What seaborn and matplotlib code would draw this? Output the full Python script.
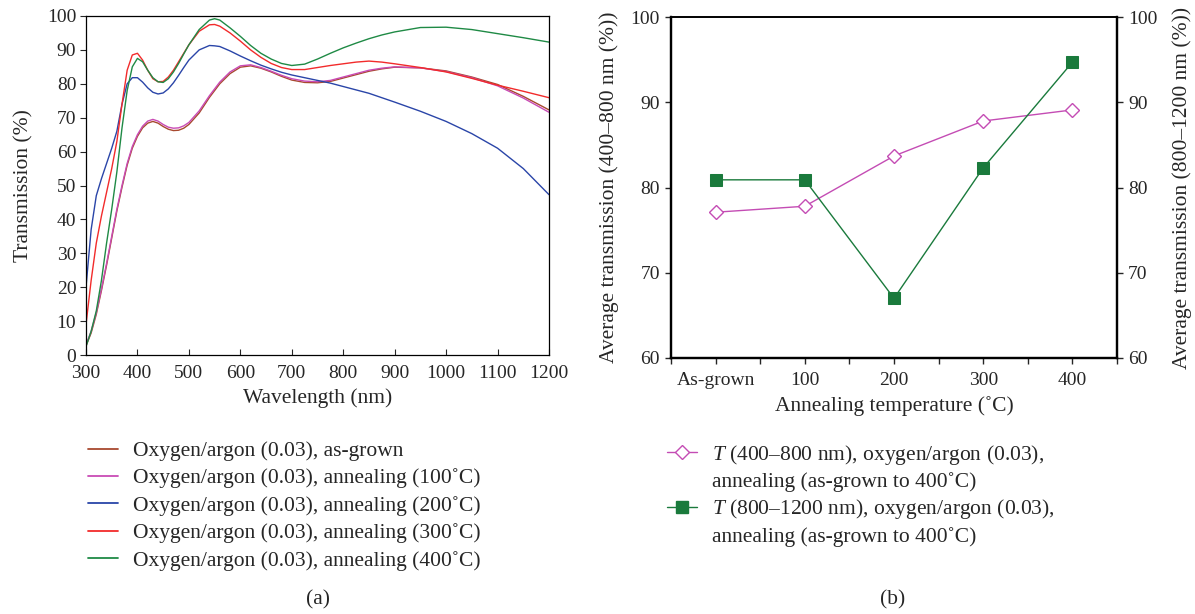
import numpy as np
import pandas as pd
import matplotlib
matplotlib.use("Agg")
import matplotlib.pyplot as plt
from matplotlib.lines import Line2D
import seaborn as sns

# ---------------- data (a) ----------------
wavelength = [300, 310, 320, 330, 340, 350, 360, 370, 380, 390, 400, 410, 420, 430, 440,
              450, 460, 470, 480, 490, 500, 520, 540, 550, 560, 580, 600, 620, 640, 660, 680,
              700, 725, 750, 775, 800, 825, 850, 875, 900, 950, 1000, 1050, 1100, 1150, 1200]

t_asgrown = [2.7, 6.5, 12, 19, 26.5, 34.5, 42.5, 49.5, 56, 61, 64.5, 67, 68.4, 68.9, 68.4,
             67.4, 66.6, 66.2, 66.3, 66.9, 68, 71.4, 76, 78, 80, 83, 84.9, 85.3, 84.6, 83.5, 82.2,
             81.1, 80.4, 80.3, 80.7, 81.7, 82.7, 83.7, 84.4, 84.9, 84.7, 83.8, 82, 79.8, 76.3, 72.3]
t_100 = [3, 7, 12.5, 19.5, 27, 35, 43, 50, 56.5, 61.5, 65, 67.5, 69, 69.5, 69,
         68, 67.2, 66.9, 67, 67.6, 68.6, 72, 76.5, 78.5, 80.5, 83.5, 85.3, 85.6, 84.8, 83.7, 82.5,
         81.5, 80.8, 80.6, 81, 82, 83, 84, 84.6, 85, 84.7, 83.6, 81.8, 79.4, 75.8, 71.6]
t_200 = [20, 37, 47, 52, 56.5, 61, 66, 74, 80, 81.8, 81.8, 80.5, 78.8, 77.5, 77,
         77.3, 78.5, 80.3, 82.5, 84.8, 87, 90, 91.3, 91.2, 91, 89.7, 88.2, 86.8, 85.5, 84.4, 83.4,
         82.6, 81.8, 81, 80.2, 79.2, 78.2, 77.2, 75.9, 74.6, 71.9, 68.9, 65.3, 61, 55, 47.3]
t_300 = [9, 22, 33, 41, 48, 55, 63, 74, 84, 88.5, 89, 87, 84, 81.5, 80.6,
         80.7, 82, 84, 86.5, 89, 91.5, 95.5, 97.4, 97.5, 97, 95, 92.6, 90, 87.8, 86, 84.8,
         84.2, 84.2, 84.8, 85.4, 85.9, 86.4, 86.7, 86.4, 85.9, 84.8, 83.5, 81.6, 79.6, 77.8, 75.9]
t_400 = [2.5, 7, 13, 22, 33, 43, 54, 67, 78, 85, 87.5, 86.5, 84, 81.8, 80.6,
         80.4, 81.5, 83.5, 86, 88.8, 91.5, 96, 98.8, 99.2, 98.8, 96.5, 94, 91.3, 89, 87.3, 86,
         85.4, 85.8, 87.3, 89, 90.6, 92, 93.3, 94.4, 95.3, 96.6, 96.7, 96, 94.8, 93.6, 92.3]

series_labels = ["Oxygen/argon (0.03), as-grown",
                 "Oxygen/argon (0.03), annealing (100˚C)",
                 "Oxygen/argon (0.03), annealing (200˚C)",
                 "Oxygen/argon (0.03), annealing (300˚C)",
                 "Oxygen/argon (0.03), annealing (400˚C)"]
series_colors = ["#a8492f", "#c94bb5", "#2a45a8", "#f22b2b", "#1f8a45"]

# ---------------- data (b) ----------------
anneal_cats = ["As-grown", "100", "200", "300", "400"]
t_vis = [77.1, 77.8, 83.7, 87.8, 89.1]      # 400-800 nm, left axis
t_nir = [80.9, 80.9, 67.0, 82.3, 94.7]      # 800-1200 nm, right axis
legend_b = ["$T$ (400–800 nm), oxygen/argon (0.03),",
            "annealing (as-grown to 400˚C)",
            "$T$ (800–1200 nm), oxygen/argon (0.03),",
            "annealing (as-grown to 400˚C)"]

# ---------------- style ----------------
sns.set_theme(style="ticks")
plt.rcParams['font.family'] = ['Liberation Serif', 'DejaVu Serif']
plt.rcParams['mathtext.fontset'] = 'custom'
plt.rcParams['mathtext.rm'] = 'Liberation Serif'
plt.rcParams['mathtext.it'] = 'Liberation Serif:italic'
FS = 14
LFS = 15.5

fig = plt.figure(figsize=(11.95, 6.14), dpi=100)
W, H = 1195, 614
axA = fig.add_axes([86 / W, 1 - 355 / H, (549 - 86) / W, (355 - 16) / H])
axB = fig.add_axes([671 / W, 1 - 358 / H, (1117 - 671) / W, (358 - 17) / H])

# ---------------- panel (a) ----------------
rows = []
for lab, vals in zip(series_labels, [t_asgrown, t_100, t_200, t_300, t_400]):
    for w, v in zip(wavelength, vals):
        rows.append((w, v, lab))
dfA = pd.DataFrame(rows, columns=["wl", "T", "series"])
sns.lineplot(data=dfA, x="wl", y="T", hue="series", hue_order=series_labels,
             palette=series_colors, estimator=None, errorbar=None, linewidth=1.0,
             ax=axA, legend=False)
axA.set_xlim(300, 1200)
axA.set_ylim(0, 100)
axA.set_xticks(range(300, 1201, 100))
axA.set_yticks(range(0, 101, 10))
axA.tick_params(axis='x', direction='in', length=4, width=0.8, labelsize=FS, pad=7)
axA.tick_params(axis='y', direction='out', length=4, width=0.8, labelsize=FS, pad=3)
for s in axA.spines.values():
    s.set_visible(True)
    s.set_linewidth(0.9)
    s.set_color('black')
axA.set_xlabel("Wavelength (nm)", fontsize=LFS, labelpad=5)
axA.set_ylabel("Transmission (%)", fontsize=LFS, labelpad=10)

handlesA = [Line2D([], [], color=c, lw=1.3) for c in series_colors]
fig.legend(handlesA, series_labels, loc='upper left',
           bbox_to_anchor=(88 / W, 1 - 441 / H), frameon=False, fontsize=LFS,
           handlelength=1.4, handletextpad=0.7, labelspacing=0.34,
           borderpad=0, borderaxespad=0)

# ---------------- panel (b) ----------------
dfB = pd.DataFrame({"pos": np.arange(len(anneal_cats)), "vis": t_vis, "nir": t_nir})
sns.lineplot(data=dfB, x="pos", y="vis", ax=axB, color="#c44cb4", marker="D",
             markersize=7, markerfacecolor="white", markeredgecolor="#c44cb4",
             markeredgewidth=1.0, linewidth=1.0, estimator=None, errorbar=None)
axB2 = axB.twinx()
sns.lineplot(data=dfB, x="pos", y="nir", ax=axB2, color="#1a7a3c", marker="s",
             markersize=9, markerfacecolor="#1a7a3c", markeredgecolor="#1a7a3c",
             linewidth=1.0, estimator=None, errorbar=None)
for ax in (axB, axB2):
    ax.set_ylim(60, 100)
    ax.set_yticks(range(60, 101, 10))
    ax.set_xlim(-0.5, len(anneal_cats) - 0.5)
axB.set_xticks(np.arange(len(anneal_cats)))
axB.set_xticklabels(anneal_cats)
axB.set_xticks(np.arange(-0.5, len(anneal_cats), 1.0), minor=True)
axB.tick_params(axis='x', which='both', direction='out', length=4, width=1.0,
                labelsize=FS, pad=6)
axB.tick_params(axis='y', direction='out', length=4, width=1.0, labelsize=FS, pad=4)
axB2.tick_params(axis='y', direction='out', length=4, width=1.0, labelsize=FS, pad=4)
for ax in (axB, axB2):
    for s in ax.spines.values():
        s.set_visible(True)
        s.set_linewidth(1.6)
        s.set_color('black')
axB.spines['top'].set_linewidth(1.2)
axB2.spines['top'].set_linewidth(1.2)
axB.set_xlabel("Annealing temperature (˚C)", fontsize=LFS, labelpad=5)
axB.set_ylabel("Average transmission (400–800 nm (%))", fontsize=LFS, labelpad=8)
axB2.set_ylabel("Average transmission (800–1200 nm (%))", fontsize=LFS, labelpad=11,
                rotation=90)

handlesB = [Line2D([], [], color="#c44cb4", marker="D", markersize=7,
                   markerfacecolor="white", markeredgecolor="#c44cb4", lw=1.0),
            Line2D([], [], linestyle='none'),
            Line2D([], [], color="#1a7a3c", marker="s", markersize=9,
                   markerfacecolor="#1a7a3c", lw=1.0),
            Line2D([], [], linestyle='none')]
fig.legend(handlesB, legend_b, loc='upper left',
           bbox_to_anchor=(667 / W, 1 - 443 / H), frameon=False, fontsize=LFS,
           handlelength=1.4, handletextpad=0.7, labelspacing=0.24,
           borderpad=0, borderaxespad=0)

fig.text(318 / W, 1 - 600 / H, "(a)", ha='center', va='center', fontsize=LFS)
fig.text(893 / W, 1 - 600 / H, "(b)", ha='center', va='center', fontsize=LFS)

fig.savefig("out.png", dpi=100)
